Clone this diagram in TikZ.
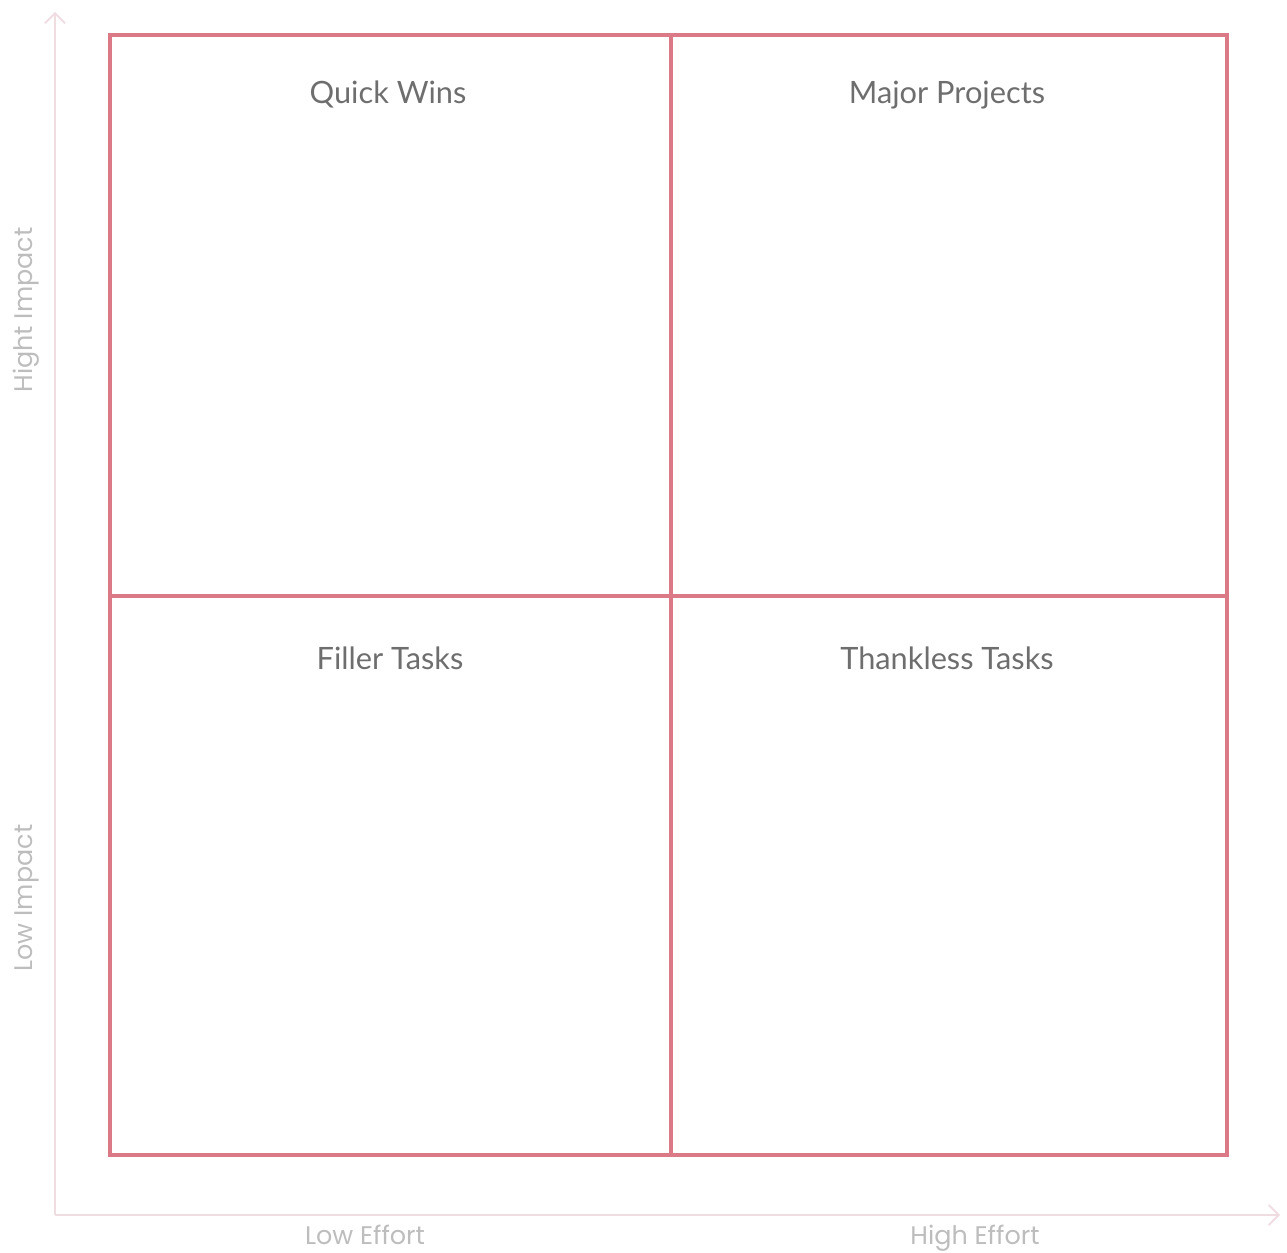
\documentclass[tikz,border=0pt]{standalone}
\usepackage{fontspec}
\usepackage{tikz}
\usetikzlibrary{arrows.meta}
\setmainfont{Lato}
\newfontfamily\axisfont{Poppins}

\definecolor{gridred}{HTML}{DB7A86}
\definecolor{axispink}{HTML}{F0DDE2}
\definecolor{titlegray}{HTML}{6E6E6E}
\definecolor{axisgray}{HTML}{BDBDBD}

\tikzset{
  quadtitle/.style={text=titlegray, anchor=base, font=\fontsize{17.5}{21}\selectfont},
  axislabel/.style={text=axisgray, anchor=base, font=\axisfont\fontsize{14.5}{17}\selectfont},
  axisline/.style={axispink, line width=1.1pt, -{Straight Barb[length=0.2cm,width=0.4cm]}},
  gridline/.style={gridred, line width=2pt},
}

\begin{document}
\begin{tikzpicture}
\useasboundingbox (0,0) rectangle (25.74,25.06);
% axes
\coordinate (origin) at (1.1,0.76);
\coordinate (ytip) at (1.1,24.82);
\coordinate (xtip) at (25.6,0.76);
\draw[axisline] (origin) -- (ytip);
\draw[axisline] (origin) -- (xtip);
% the four quadrants
\draw[gridline] (2.2,1.96) rectangle (24.54,24.36);
\draw[gridline] (13.42,1.96) -- (13.42,24.36);
\draw[gridline] (2.2,13.14) -- (24.54,13.14);
\node[quadtitle] (quick) at (7.76,22.98) {Quick Wins};
\node[quadtitle] (major) at (18.94,22.98) {Major Projects};
\node[quadtitle] (filler) at (7.8,11.66) {Filler Tasks};
\node[quadtitle] (thankless) at (18.94,11.66) {Thankless Tasks};
% axis labels
\node[axislabel] (loweff) at (7.3,0.17) {Low Effort};
\node[axislabel] (higheff) at (19.5,0.17) {High Effort};
\node[axislabel, rotate=90] (highimp) at (0.64,18.86) {Hight Impact};
\node[axislabel, rotate=90] (lowimp) at (0.64,7.1) {Low Impact};
\end{tikzpicture}
\end{document}
